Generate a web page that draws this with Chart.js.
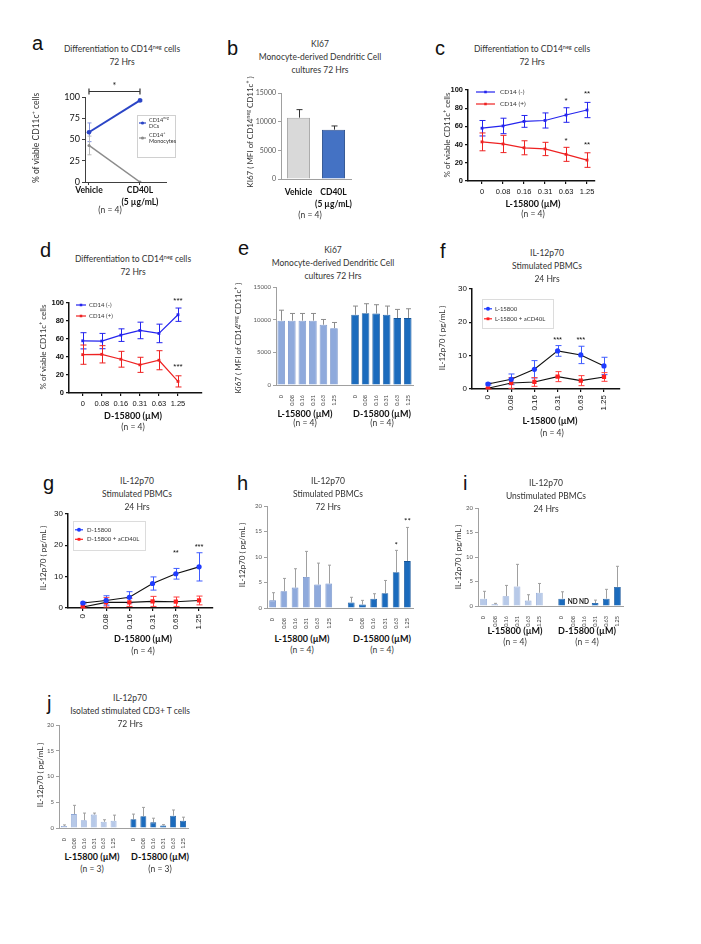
<!DOCTYPE html>
<html>
<head>
<meta charset="utf-8">
<script src="https://cdn.jsdelivr.net/npm/chart.js@4.4.1/dist/chart.umd.min.js"></script>
<style>
    body { margin: 0; background: #fff; }
    #fig { position: relative; width: 701px; height: 944px; overflow: hidden; font-family: Lato, sans-serif; color: #333; }
    #fig canvas { position: absolute; }
    .t { position: absolute; white-space: nowrap; line-height: 1; transform: translate(-50%, -50%); }
    .r { transform: translate(-50%, -50%) rotate(-90deg); }
    .t sup { font-size: 65%; vertical-align: 0.5em; line-height: 0; }
    .lt { position: absolute; font: 20px "Liberation Sans", sans-serif; line-height: 1; color: #111; }
</style>
</head>
<body>
<div id="fig"></div>
<script>
// ---- data ----
const doses = ["0", "0.08", "0.16", "0.31", "0.63", "1.25"];
const groupDoses = [...doses, "", ...doses];

// a: differentiation, vehicle vs CD40L
const aGroups = ["Vehicle", ["CD40L", "(5 µg/mL)"]];
const aDCs = [58.5, 96];
const aDCsErr = [11, 1];
const aMono = [43, 0];
const aMonoErr = [11, 0];

// b: Ki67 MFI
const bGroups = ["Vehicle", ["CD40L", "(5 µg/mL)"]];
const bKi67 = [10700, 8600];
const bKi67Err = [1400, 650];

// c: L-15800, % of viable CD11c+
const cNeg = [58, 60.5, 65.5, 66.5, 72.5, 78];
const cNegErr = [8.5, 8.5, 6.5, 8.3, 8, 8.4];
const cPos = [43, 40.7, 36.5, 35.2, 29.3, 23];
const cPosErr = [9.8, 9.5, 7.7, 7.3, 7.7, 8];
const cStars = [[4, 88, "*"], [5, 96, "**"], [4, 44, "*"], [5, 40, "**"]];

// d: D-15800, % of viable CD11c+
const dNeg = [58, 57.7, 64.3, 69.5, 66.2, 87];
const dNegErr = [9, 8.5, 7, 9.2, 10.3, 7.4];
const dPos = [42.6, 43, 37.5, 31.3, 36.4, 12.9];
const dPosErr = [10.7, 9.6, 8.8, 8.4, 10.6, 6.2];
const dStars = [[5, 102, "***"], [5, 29.5, "***"]];

// e: Ki67 MFI by dose
const eL = [9850, 9850, 9850, 9850, 9230, 8700];
const eLErr = [1600, 1100, 1100, 1100, 800, 870];
const eD = [10750, 11000, 10950, 10750, 10240, 10240];
const eDErr = [1330, 1440, 1340, 1330, 1330, 1430];

// f: IL-12p70, stimulated PBMCs 24 h, L-15800
const fDrug = [1.5, 2.9, 5.9, 11.4, 10.2, 6.9];
const fDrugErr = [0.3, 1.6, 2.6, 1.6, 2.6, 2.6];
const fBlock = [0.2, 1.8, 2.1, 3.7, 2.5, 3.6];
const fBlockErr = [0.2, 1.6, 1.3, 1.5, 1.5, 1.3];
const fStars = [[3, 14.6, "***"], [4, 14.6, "***"]];

// g: IL-12p70, stimulated PBMCs 24 h, D-15800
const gDrug = [1.6, 2.4, 3.4, 7.8, 10.9, 13.1];
const gDrugErr = [0.3, 1.5, 1.8, 2.1, 1.7, 4.5];
const gBlock = [0.3, 1.8, 1.8, 2.1, 2.0, 2.4];
const gBlockErr = [0.3, 1.5, 1.3, 1.6, 1.5, 1.4];
const gStars = [[4, 17.5, "**"], [5, 19.5, "***"]];

// h: IL-12p70, stimulated PBMCs 72 h
const hL = [1.5, 3.3, 4.0, 6.1, 4.6, 4.8];
const hLErr = [1.5, 2.5, 3.7, 5.0, 4.2, 3.6];
const hD = [1.1, 0.7, 1.8, 2.9, 7.0, 9.2];
const hDErr = [1.0, 0.8, 1.0, 2.5, 4.3, 6.6];
const hStars = [[11, 12.3, "*"], [12, 17, "**"]];

// i: IL-12p70, unstimulated PBMCs 24 h (ND = not detected)
const iL = [1.5, 0.34, 2.0, 4.0, 1.1, 2.7];
const iLErr = [1.5, 0.2, 2.2, 4.5, 1.2, 1.9];
const iD = [1.5, null, null, 0.6, 1.5, 3.9];
const iDErr = [1.4, 0, 0, 0.6, 1.9, 4.2];
const iNotes = [[8, 0.8, "ND"], [9, 0.8, "ND"]];

// j: IL-12p70, isolated CD3+ T cells 72 h
const jL = [0.4, 2.7, 1.5, 2.6, 1.2, 1.4];
const jLErr = [0.2, 1.7, 1.4, 0.3, 0.4, 1.1];
const jD = [1.7, 2.3, 1.1, 0.5, 2.4, 1.4];
const jDErr = [1.0, 1.7, 0.8, 0.15, 1.1, 0.7];

// ---- helpers ----
Chart.defaults.font.family = "Lato, sans-serif";
Chart.defaults.color = "#222";
Chart.defaults.plugins.legend.display = false;
Chart.defaults.plugins.tooltip.enabled = false;
Chart.defaults.animation = false;
Chart.defaults.responsive = false;

const fig = document.getElementById("fig");
const pts = vals => vals.map((v, i) => ({ x: i, y: v }));
const joinGroups = (a, b) => [...a, null, ...b];
const groupColors = (c1, c2) => [...doses.map(() => c1), "rgba(0,0,0,0)", ...doses.map(() => c2)];

function richText(ctx, s, x, y, size) {
    ctx.textAlign = "left";
    ctx.textBaseline = "middle";
    s.split(/\^\{|\}/).forEach((p, k) => {
        const sup = k % 2 === 1;
        ctx.font = (sup ? size * 0.65 : size) + "px Lato, sans-serif";
        ctx.fillText(p, x, sup ? y - size * 0.35 : y);
        x += ctx.measureText(p).width;
    });
}

// error bars read from dataset.errors
const errorBars = {
    id: "errorBars",
    beforeDatasetsDraw(chart) {
        const ctx = chart.ctx, ys = chart.scales.y;
        chart.data.datasets.forEach((ds, di) => {
            if (!ds.errors) return;
            const meta = chart.getDatasetMeta(di);
            ctx.save();
            ctx.strokeStyle = ds.errorColor;
            ctx.lineWidth = ds.errorWidth || 1;
            meta.data.forEach((el, i) => {
                const raw = ds.data[i], e = ds.errors[i];
                if (raw == null || !e) return;
                const v = typeof raw === "object" ? raw.y : raw;
                const x = Math.round(el.x) + 0.5;
                const top = ys.getPixelForValue(v + e);
                const bot = ds.upOnly ? ys.getPixelForValue(v) : ys.getPixelForValue(Math.max(0, v - e));
                const cap = ds.errorCap || 0;
                ctx.beginPath();
                ctx.moveTo(x, top); ctx.lineTo(x, bot);
                if (cap) {
                    ctx.moveTo(x - cap, top); ctx.lineTo(x + cap, top);
                    if (!ds.upOnly) { ctx.moveTo(x - cap, bot); ctx.lineTo(x + cap, bot); }
                }
                ctx.stroke();
            });
            ctx.restore();
        });
    }
};

// stars, ND labels and the significance bracket
const notes = {
    id: "notes",
    afterDraw(chart, args, o) {
        const ctx = chart.ctx, xs = chart.scales.x, ys = chart.scales.y;
        ctx.save();
        ctx.fillStyle = o.textColor || "#111";
        ctx.strokeStyle = "#333";
        ctx.font = o.textFont || "8px Liberation Sans, sans-serif";
        ctx.textAlign = "center";
        ctx.textBaseline = "middle";
        (o.items || []).forEach(n => ctx.fillText(n[2], xs.getPixelForValue(n[0]), ys.getPixelForValue(n[1])));
        if (o.bracket) {
            const [i0, i1, v] = o.bracket;
            const x0 = xs.getPixelForValue(i0), x1 = xs.getPixelForValue(i1), y = Math.round(ys.getPixelForValue(v)) + 0.5;
            ctx.lineWidth = 1.2;
            ctx.beginPath();
            ctx.moveTo(x0, y - 3); ctx.lineTo(x0, y + 3);
            ctx.moveTo(x0, y); ctx.lineTo(x1, y);
            ctx.moveTo(x1, y - 3); ctx.lineTo(x1, y + 3);
            ctx.stroke();
        }
        ctx.restore();
    }
};

// small legends placed inside the plot
const miniLegend = {
    id: "miniLegend",
    afterDraw(chart, args, o) {
        if (!o.show) return;
        const ctx = chart.ctx, a = chart.chartArea;
        const x = a.left + o.dx, y = a.top + o.dy;
        ctx.save();
        if (o.w) {
            ctx.strokeStyle = o.boxColor || "#d0d0d0";
            ctx.lineWidth = 1;
            ctx.strokeRect(Math.round(x) + 0.5, Math.round(y) + 0.5, o.w, o.h);
        }
        chart.data.datasets.forEach((ds, k) => {
            const cy = y + o.first + k * o.gap;
            const col = ds.pointBackgroundColor;
            ctx.strokeStyle = col;
            ctx.fillStyle = col;
            ctx.lineWidth = o.lineWidth || 1.2;
            ctx.beginPath();
            ctx.moveTo(x + o.lx, cy); ctx.lineTo(x + o.lx + o.len, cy);
            ctx.stroke();
            Chart.helpers.drawPoint(ctx, { pointStyle: ds.pointStyle || "circle", radius: o.radius || ds.pointRadius, rotation: 0, borderWidth: 0 }, x + o.lx + o.len / 2, cy);
            const lines = ds.label.split("|");
            ctx.fillStyle = o.textColor || "#333";
            lines.forEach((s, j) => richText(ctx, s, x + o.tx, cy + (j - (lines.length - 1) / 2) * o.lh, o.size));
        });
        ctx.restore();
    }
};

// box = plot area in page pixels, pad = room for [left axis, top, right, bottom axis]
function panel(box, pad, config) {
    const [x0, y0, x1, y1] = box;
    const w = x1 - x0 + pad[0] + pad[2], h = y1 - y0 + pad[1] + pad[3];
    const cv = document.createElement("canvas");
    cv.width = w; cv.height = h;
    cv.style.left = (x0 - pad[0]) + "px";
    cv.style.top = (y0 - pad[1]) + "px";
    cv.style.width = w + "px";
    cv.style.height = h + "px";
    fig.appendChild(cv);
    const o = config.options;
    o.devicePixelRatio = 1;
    o.layout = { autoPadding: false, padding: { left: 0, top: pad[1], right: pad[2], bottom: 0 } };
    o.scales.x.afterFit = s => { s.height = pad[3]; };
    o.scales.y.afterFit = s => { s.width = pad[0]; };
    config.plugins = [errorBars, notes, miniLegend];
    return new Chart(cv, config);
}

const plain = v => String(v);

// Prism-style axes
function gpY(max, step, font) {
    return {
        min: 0, max,
        ticks: { stepSize: step, padding: 2, color: "#111", font, callback: plain },
        grid: { drawOnChartArea: false, tickLength: 3, color: "#111", lineWidth: 1.2 },
        border: { color: "#111", width: 1.5 }
    };
}
function gpX(min, max, labels, ticks) {
    return {
        type: "linear", min, max,
        afterBuildTicks: s => { s.ticks = labels.map((l, i) => ({ value: i })); },
        ticks: Object.assign({ autoSkip: false, maxRotation: 0, color: "#111", callback: (v, i) => labels[i] }, ticks),
        grid: { drawOnChartArea: false, tickLength: 3, color: "#111", lineWidth: 1.2 },
        border: { color: "#111", width: 1.5 }
    };
}
// Excel-style axes
function xlY(max, step, size) {
    return {
        min: 0, max,
        ticks: { stepSize: step, padding: 2, color: "#555", font: { size }, callback: plain },
        grid: { drawOnChartArea: false, tickLength: 3, color: "#a0a0a0" },
        border: { color: "#a0a0a0", width: 1 }
    };
}
function xlX(ticks) {
    return {
        type: "category", offset: true,
        ticks: Object.assign({ autoSkip: false, padding: 2, color: "#444" }, ticks),
        grid: { display: false },
        border: { color: "#a0a0a0", width: 1 }
    };
}

const BLUE = "#2424ee", RED = "#ee2222";
const LIGHT = "#8faadc", LIGHT2 = "#b7c9e8", DARK = "#1b6bbd";
const smallRot = { minRotation: 90, maxRotation: 90, font: { size: 5.5 } };
const boldCats = { maxRotation: 0, minRotation: 0, color: "#111", font: { size: 8.5, weight: "bold", lineHeight: 1.35 } };

// ---- a ----
panel([85, 97, 166, 182], [60, 22, 14, 36], {
    type: "line",
    data: {
        datasets: [
            { label: "CD14^{neg}|DCs", data: pts(aDCs), borderColor: "#2b45c6", pointBackgroundColor: "#2b45c6", pointBorderWidth: 0, pointRadius: 2.3, borderWidth: 2, errors: aDCsErr, errorColor: "#8393dc", errorCap: 2 },
            { label: "CD14^{+}|Monocytes", data: pts(aMono), borderColor: "#8c8c8c", pointBackgroundColor: "#8c8c8c", pointBorderWidth: 0, pointRadius: 1.5, borderWidth: 1.5, errors: aMonoErr, errorColor: "#b8b8b8", errorCap: 2 }
        ]
    },
    options: {
        scales: {
            x: Object.assign(gpX(-0.078, 1.51, aGroups, Object.assign({}, boldCats, { padding: 0 })),
                { border: { color: "#404040", width: 1 }, grid: { drawOnChartArea: false, tickLength: 3, color: "#404040" } }),
            y: Object.assign(gpY(100, 25, { size: 9 }), { border: { color: "#404040", width: 1 }, grid: { drawOnChartArea: false, tickLength: 3, color: "#404040" } })
        },
        plugins: {
            notes: { items: [[0.5, 113, "*"]], bracket: [0, 1, 107], textFont: "9px Lato, sans-serif" },
            miniLegend: { show: true, dx: 52, dy: 18, w: 38, h: 42, first: 8, gap: 15, lx: 2, len: 7, tx: 12, lh: 5.5, size: 5.5, radius: 1.6 }
        }
    }
});

// ---- b ----
panel([281, 93, 351, 179], [40, 8, 6, 36], {
    type: "bar",
    data: {
        labels: bGroups,
        datasets: [{
            data: bKi67, backgroundColor: ["#d9d9d9", "#4472c4"], borderColor: ["#a6a6a6", "#2f528f"], borderWidth: 1,
            barPercentage: 0.66, categoryPercentage: 1, errors: bKi67Err, errorColor: "#333", errorCap: 3, upOnly: true
        }]
    },
    options: {
        scales: {
            x: xlX(Object.assign({}, boldCats, { padding: 0 })),
            y: xlY(15000, 5000, 7)
        }
    }
});

// ---- c ----
panel([468, 90, 595, 181], [24, 8, 6, 30], {
    type: "line",
    data: {
        datasets: [
            { label: "CD14 (-)", data: pts(cNeg), borderColor: BLUE, pointBackgroundColor: BLUE, pointStyle: "rect", pointRadius: 2, pointBorderWidth: 0, borderWidth: 1.2, errors: cNegErr, errorColor: BLUE, errorCap: 3 },
            { label: "CD14 (+)", data: pts(cPos), borderColor: RED, pointBackgroundColor: RED, pointStyle: "rect", pointRadius: 2, pointBorderWidth: 0, borderWidth: 1.2, errors: cPosErr, errorColor: RED, errorCap: 3 }
        ]
    },
    options: {
        scales: {
            x: gpX(-0.667, 5.38, doses, { padding: 3, font: { family: "Liberation Sans", size: 7.5 } }),
            y: gpY(100, 20, { family: "Liberation Sans", size: 7.5, weight: "bold" })
        },
        plugins: {
            notes: { items: cStars, textFont: "8px Liberation Sans, sans-serif" },
            miniLegend: { show: true, dx: 0, dy: 0, first: 2, gap: 12, lx: 8, len: 19, tx: 32, lh: 7, size: 6.5, radius: 1.8 }
        }
    }
});

// ---- d ----
panel([69, 303, 202, 393], [24, 14, 6, 30], {
    type: "line",
    data: {
        datasets: [
            { label: "CD14 (-)", data: pts(dNeg), borderColor: BLUE, pointBackgroundColor: BLUE, pointStyle: "rect", pointRadius: 2, pointBorderWidth: 0, borderWidth: 1.2, errors: dNegErr, errorColor: BLUE, errorCap: 3 },
            { label: "CD14 (+)", data: pts(dPos), borderColor: RED, pointBackgroundColor: RED, pointStyle: "rect", pointRadius: 2, pointBorderWidth: 0, borderWidth: 1.2, errors: dPosErr, errorColor: RED, errorCap: 3 }
        ]
    },
    options: {
        scales: {
            x: gpX(-0.72, 6.26, doses, { padding: 3, font: { family: "Liberation Sans", size: 7.5 } }),
            y: gpY(100, 20, { family: "Liberation Sans", size: 7.5, weight: "bold" })
        },
        plugins: {
            notes: { items: dStars, textFont: "8px Liberation Sans, sans-serif" },
            miniLegend: { show: true, dx: 0, dy: 0, first: 2, gap: 11, lx: 7, len: 10, tx: 20, lh: 7, size: 6, radius: 1.8 }
        }
    }
});

// ---- e ----
panel([276, 287, 413, 385], [26, 6, 4, 24], {
    type: "bar",
    data: {
        labels: groupDoses,
        datasets: [{
            data: joinGroups(eL, eD), backgroundColor: groupColors(LIGHT, DARK), borderColor: groupColors("#6d8bc6", "#15559a"), borderWidth: 0.8,
            barPercentage: 0.72, categoryPercentage: 1, errors: joinGroups(eLErr, eDErr), errorColor: "#8c8c8c", errorCap: 2.5, upOnly: true
        }]
    },
    options: { scales: { x: xlX(smallRot), y: xlY(15000, 5000, 6) } }
});

// ---- f ----
panel([472, 288, 620, 389], [20, 6, 6, 30], {
    type: "line",
    data: {
        datasets: [
            { label: "L-15800", data: pts(fDrug), borderColor: "#111", pointBackgroundColor: "#1f3cff", pointRadius: 2.6, pointBorderWidth: 0, borderWidth: 1.1, errors: fDrugErr, errorColor: "#3f5cff", errorCap: 3 },
            { label: "L-15800 + aCD40L", data: pts(fBlock), borderColor: "#111", pointBackgroundColor: "#ff1f1f", pointStyle: "rect", pointRadius: 3, pointBorderWidth: 0, borderWidth: 1.1, errors: fBlockErr, errorColor: "#ff3f3f", errorCap: 3 }
        ]
    },
    options: {
        scales: {
            x: gpX(-0.69, 5.69, doses, { padding: 3, minRotation: 90, maxRotation: 90, font: { family: "Liberation Sans", size: 8 } }),
            y: gpY(30, 10, { family: "Liberation Sans", size: 8 })
        },
        plugins: {
            notes: { items: fStars, textFont: "7.5px Liberation Sans, sans-serif" },
            miniLegend: { show: true, dx: 10, dy: 10, w: 71, h: 29, first: 10, gap: 10, lx: 2, len: 8, tx: 13, lh: 7, size: 6, radius: 2, boxColor: "#dcdcdc" }
        }
    }
});

// ---- g ----
panel([68, 513, 213, 608], [20, 6, 6, 30], {
    type: "line",
    data: {
        datasets: [
            { label: "D-15800", data: pts(gDrug), borderColor: "#111", pointBackgroundColor: "#1f3cff", pointRadius: 2.6, pointBorderWidth: 0, borderWidth: 1.1, errors: gDrugErr, errorColor: "#3f5cff", errorCap: 3 },
            { label: "D-15800 + aCD40L", data: pts(gBlock), borderColor: "#111", pointBackgroundColor: "#ff1f1f", pointStyle: "rect", pointRadius: 3, pointBorderWidth: 0, borderWidth: 1.1, errors: gBlockErr, errorColor: "#ff3f3f", errorCap: 3 }
        ]
    },
    options: {
        scales: {
            x: gpX(-0.64, 5.6, doses, { padding: 3, minRotation: 90, maxRotation: 90, font: { family: "Liberation Sans", size: 8 } }),
            y: gpY(30, 10, { family: "Liberation Sans", size: 8 })
        },
        plugins: {
            notes: { items: gStars, textFont: "7.5px Liberation Sans, sans-serif" },
            miniLegend: { show: true, dx: 5, dy: 7, w: 72, h: 29, first: 9, gap: 9.5, lx: 2, len: 8, tx: 14, lh: 7, size: 6, radius: 2, boxColor: "#dcdcdc" }
        }
    }
});

// ---- h ----
panel([267, 506, 413, 608], [16, 6, 4, 22], {
    type: "bar",
    data: {
        labels: groupDoses,
        datasets: [{
            data: joinGroups(hL, hD), backgroundColor: groupColors(LIGHT, DARK), borderColor: groupColors("#6d8bc6", "#15559a"), borderWidth: 0.8,
            barPercentage: 0.6, categoryPercentage: 1, errors: joinGroups(hLErr, hDErr), errorColor: "#a0a0a0", errorCap: 1.5, upOnly: true
        }]
    },
    options: {
        scales: { x: xlX(smallRot), y: xlY(20, 5, 6) },
        plugins: { notes: { items: hStars, textFont: "8px Lato, sans-serif" } }
    }
});

// ---- i ----
panel([478, 508, 623, 606], [16, 6, 4, 22], {
    type: "bar",
    data: {
        labels: groupDoses,
        datasets: [{
            data: joinGroups(iL, iD), backgroundColor: groupColors(LIGHT2, DARK), borderColor: groupColors("#8ea7d6", "#15559a"), borderWidth: 0.8,
            barPercentage: 0.6, categoryPercentage: 1, errors: joinGroups(iLErr, iDErr), errorColor: "#a0a0a0", errorCap: 1.5, upOnly: true
        }]
    },
    options: {
        scales: { x: xlX(smallRot), y: xlY(20, 5, 6) },
        plugins: { notes: { items: iNotes, textFont: "bold 6.5px Lato, sans-serif" } }
    }
});

// ---- j ----
panel([59, 725, 188, 828], [16, 6, 4, 22], {
    type: "bar",
    data: {
        labels: groupDoses,
        datasets: [{
            data: joinGroups(jL, jD), backgroundColor: groupColors(LIGHT2, DARK), borderColor: groupColors("#8ea7d6", "#15559a"), borderWidth: 0.8,
            barPercentage: 0.6, categoryPercentage: 1, errors: joinGroups(jLErr, jDErr), errorColor: "#a0a0a0", errorCap: 1.5, upOnly: true
        }]
    },
    options: { scales: { x: xlX(smallRot), y: xlY(20, 5, 6) } }
});

// ---- text ----
function txt(x, y, html, style, rot) {
    const d = document.createElement("div");
    d.className = rot ? "t r" : "t";
    d.innerHTML = html;
    d.style.cssText = "left:" + x + "px;top:" + y + "px;" + (style || "");
    fig.appendChild(d);
}
function letter(x, baseline, s) {
    const d = document.createElement("div");
    d.className = "lt";
    d.textContent = s;
    d.style.left = x + "px";
    d.style.top = (baseline - 17) + "px";
    fig.appendChild(d);
}
function title(x, y, lines) {
    lines.forEach((l, k) => txt(x, y + k * 12.8, l, "font-size:8.5px;"));
}
const BOLD = "font-size:9px;font-weight:bold;color:#111;";
const NORM = "font-size:8.5px;";
const YT = "font-size:8px;";

letter(32, 50, "a"); letter(227, 55, "b"); letter(435, 55, "c");
letter(40, 257, "d"); letter(238, 255, "e"); letter(440, 258, "f");
letter(43, 490, "g"); letter(237, 490, "h"); letter(463, 490, "i"); letter(47, 710, "j");

const negTitle = ["Differentiation to CD14<sup>neg</sup> cells", "72 Hrs"];
title(122, 49, negTitle);
title(320, 44, ["KI67", "Monocyte-derived Dendritic Cell", "cultures 72 Hrs"]);
title(532, 49, negTitle);
title(133, 259, negTitle);
title(333, 250, ["Ki67", "Monocyte-derived Dendritic Cell", "cultures 72 Hrs"]);
title(547, 253, ["IL-12p70", "Stimulated PBMCs", "24 Hrs"]);
title(137, 481, ["IL-12p70", "Stimulated PBMCs", "24 Hrs"]);
title(328, 481, ["IL-12p70", "Stimulated PBMCs", "72 Hrs"]);
title(546, 483, ["IL-12p70", "Unstimulated PBMCs", "24 Hrs"]);
title(130, 698, ["IL-12p70", "Isolated stimulated CD3+ T cells", "72 Hrs"]);

const viable = "% of viable CD11c<sup>+</sup> cells";
const il12 = "IL-12p70 ( pg/mL )";
txt(36, 138, viable, "font-size:8.5px;", true);
txt(250, 132, "KI67 ( MFI of CD14<sup>neg</sup> CD11c<sup>+</sup> )", YT, true);
txt(447, 135, viable, YT, true);
txt(43, 347, viable, YT, true);
txt(238, 338, "Ki67 ( MFI of CD14<sup>neg</sup> CD11c<sup>+</sup> )", YT, true);
txt(442, 338, il12, YT, true);
txt(43, 558, il12, YT, true);
txt(242, 555, il12, YT, true);
txt(458, 557, il12, YT, true);
txt(40, 775, il12, YT, true);

txt(110, 210, "(n = 4)", NORM);
txt(310, 215, "(n = 4)", NORM);
txt(533, 203, "L-15800 (µM)", BOLD); txt(533, 214, "(n = 4)", NORM);
txt(133, 415, "D-15800 (µM)", BOLD); txt(133, 427, "(n = 4)", NORM);
txt(305, 413, "L-15800 (µM)", BOLD); txt(305, 423, "(n = 4)", NORM);
txt(382, 413, "D-15800 (µM)", BOLD); txt(382, 423, "(n = 4)", NORM);
txt(550, 420, "L-15800 (µM)", BOLD); txt(552, 433, "(n = 4)", NORM);
txt(143, 638, "D-15800 (µM)", BOLD); txt(143, 651, "(n = 4)", NORM);
txt(302, 638, "L-15800 (µM)", BOLD); txt(302, 650, "(n = 4)", NORM);
txt(382, 638, "D-15800 (µM)", BOLD); txt(382, 650, "(n = 4)", NORM);
txt(515, 630, "L-15800 (µM)", BOLD); txt(515, 642, "(n = 4)", NORM);
txt(587, 630, "D-15800 (µM)", BOLD); txt(587, 642, "(n = 4)", NORM);
txt(92, 856, "L-15800 (µM)", BOLD); txt(92, 869, "(n = 3)", NORM);
txt(160, 856, "D-15800 (µM)", BOLD); txt(160, 869, "(n = 3)", NORM);
</script>
</body>
</html>
